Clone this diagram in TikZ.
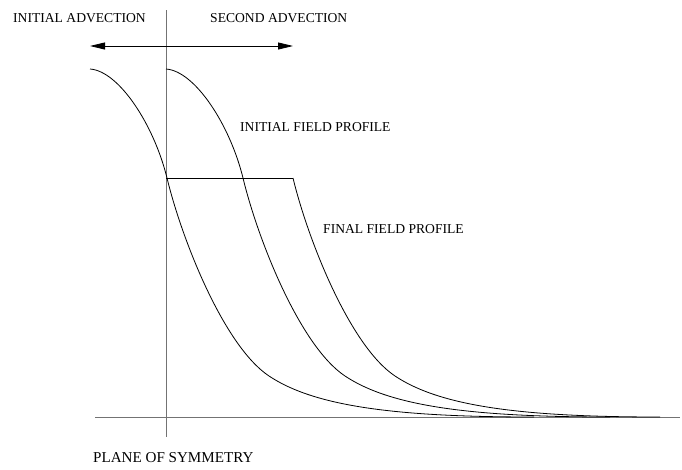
\documentclass[tikz,border=0pt]{standalone}
\usepackage{fontspec}
\setmainfont{Liberation Serif}
\usetikzlibrary{arrows.meta}
\begin{document}
\begin{tikzpicture}[x=1pt,y=-1pt,
  axis/.style={draw=black!55, line width=1pt},
  profile/.style={draw=black, line width=0.8pt, line join=round},
  caption/.style={inner sep=0pt, anchor=west, font=\fontsize{13.6}{15}\selectfont},
  bigcaption/.style={caption, font=\fontsize{15.1}{17}\selectfont},
  advect/.style={draw=black, line width=0.8pt, {Triangle[length=15pt,width=7pt]}-{Triangle[length=15pt,width=7pt]}}]
\useasboundingbox (0,0) rectangle (682,469);

% axes: plane of symmetry and baseline
\coordinate (symtop) at (166,10);
\coordinate (symbot) at (166,437);
\coordinate (baseL) at (95,417);
\coordinate (baseR) at (680,417);
\draw[axis] (symtop) -- (symbot);
\draw[axis] (baseL) -- (baseR);

% advection arrow
\coordinate (advL) at (90,46);
\coordinate (advR) at (293,46);
\draw[advect] (advL) -- (advR);

% labels
\node[caption] (ia) at (13,18) {INITIAL ADVECTION};
\node[caption] (sa) at (210,18) {SECOND ADVECTION};
\node[caption] (ifp) at (240,127) {INITIAL FIELD PROFILE};
\node[caption] (ffp) at (323,229) {FINAL FIELD PROFILE};
\node[bigcaption] (pos) at (93,458) {PLANE OF SYMMETRY};

% profile shifted left (initial advection)
\draw[profile, shift={(-76,0)}]
  (166,69) .. controls (195,71) and (230,125) .. (243,178)
  .. controls (258,240) and (300,346) .. (345,376)
  .. controls (390,406) and (470,417) .. (610,417);

% initial field profile
\draw[profile]
  (166,69) .. controls (195,71) and (230,125) .. (243,178)
  .. controls (258,240) and (300,346) .. (345,376)
  .. controls (390,406) and (470,417) .. (610,417);

% final field profile: plateau then decay
\coordinate (plateauL) at (166,178);
\coordinate (plateauR) at (293,178);
\draw[profile] (plateauL) -- (plateauR);
\draw[profile, shift={(50,0)}]
  (243,178) .. controls (258,240) and (300,346) .. (345,376)
  .. controls (390,406) and (470,417) .. (610,417);
\end{tikzpicture}
\end{document}
